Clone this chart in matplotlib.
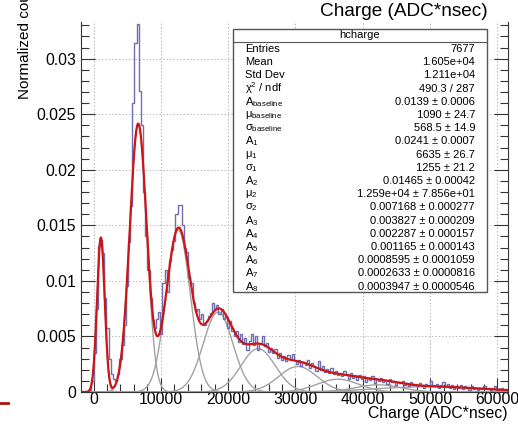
import numpy as np
import matplotlib
matplotlib.use("Agg")
import matplotlib.pyplot as plt
from matplotlib.ticker import MultipleLocator
from matplotlib.lines import Line2D
from matplotlib.patches import Rectangle

plt.rcParams['font.family'] = ['Liberation Sans', 'DejaVu Sans']
plt.rcParams['mathtext.fontset'] = 'custom'
plt.rcParams['mathtext.rm'] = 'Liberation Sans'
plt.rcParams['mathtext.it'] = 'Liberation Sans:italic'
plt.rcParams['mathtext.sf'] = 'Liberation Sans'

# ---------------- data ----------------
bin_start = -1920
bin_width = 320
hist_counts = [
    0, 0, 0, 0.0000, 0.0002, 0.0010, 0.0035, 0.0075, 0.0131, 0.0137,
    0.0125, 0.0085, 0.0058, 0.0030, 0.0016, 0.0012, 0.0010, 0.0016, 0.0030, 0.0042,
    0.0060, 0.0095, 0.0135, 0.0167, 0.0260, 0.0314, 0.0331, 0.0271, 0.0240, 0.0180,
    0.0140, 0.0110, 0.0085, 0.0065, 0.0058, 0.0066, 0.0072, 0.0052, 0.0098, 0.0110,
    0.0090, 0.0118, 0.0128, 0.0136, 0.0160, 0.0168, 0.0168, 0.0150, 0.0130, 0.0126,
    0.0103, 0.0098, 0.0080, 0.0073, 0.0075, 0.0066, 0.0070, 0.0060, 0.0064, 0.0068,
    0.0071, 0.0080, 0.0075, 0.0078, 0.0070, 0.0075, 0.0066, 0.0068, 0.0058, 0.0064,
    0.0055, 0.0050, 0.0055, 0.0045, 0.0052, 0.0043, 0.0049, 0.0038, 0.0046, 0.0052,
    0.0042, 0.0050, 0.0038, 0.0044, 0.0050, 0.0041, 0.0044, 0.0036, 0.0040, 0.0035,
    0.0039, 0.0031, 0.0035, 0.0029, 0.0032, 0.0028, 0.0033, 0.0030, 0.0034, 0.0029,
    0.0025, 0.0029, 0.0023, 0.0027, 0.0024, 0.0029, 0.0022, 0.0026, 0.0023, 0.0019,
    0.0028, 0.0020, 0.0023, 0.0018, 0.0021, 0.0017, 0.0022, 0.0016, 0.0019, 0.0015,
    0.0017, 0.0014, 0.0019, 0.0016, 0.0012, 0.0017, 0.0013, 0.0015, 0.0011, 0.0015,
    0.0012, 0.0014, 0.0009, 0.0013, 0.0011, 0.0014, 0.0008, 0.0012, 0.0010, 0.0013,
    0.0009, 0.0011, 0.0007, 0.0012, 0.0009, 0.0010, 0.0006, 0.0009, 0.0008, 0.0010,
    0.0006, 0.0008, 0.0005, 0.0009, 0.0006, 0.0007, 0.0005, 0.0008, 0.0006, 0.0004,
    0.0007, 0.0005, 0.0010, 0.0006, 0.0005, 0.0007, 0.0004, 0.0006, 0.0009, 0.0005,
    0.0007, 0.0004, 0.0006, 0.0003, 0.0005, 0.0004, 0.0006, 0.0003, 0.0005, 0.0004,
    0.0002, 0.0005, 0.0003, 0.0004, 0.0002, 0.0004, 0.0003, 0.0005, 0.0003, 0.0004,
    0.0002, 0.0003, 0.0005, 0.0002, 0.0003, 0.0004, 0.0002, 0.0003,
]

# fitted gaussian components (peak height, mean, sigma)
comp_height = [0.0139, 0.0241, 0.0146, 0.0072, 0.0039, 0.0023, 0.00115, 0.00065, 0.00048]
comp_mu = [1090, 6635, 12590, 18500, 24450, 30350, 36300, 42300, 50000]
comp_sigma = [568, 1255, 1780, 2200, 2550, 2850, 3100, 3300, 8000]

x_ticks = [0, 10000, 20000, 30000, 40000, 50000, 60000]
y_ticks = [0, 0.005, 0.01, 0.015, 0.02, 0.025, 0.03]
y_ticklabels = ["0", "0.005", "0.01", "0.015", "0.02", "0.025", "0.03"]

stats_title = "hcharge"
stats_labels = ["Entries", "Mean", "Std Dev", r"χ$^{2}$ / ndf",
                r"A$_{\rm baseline}$", r"μ$_{\rm baseline}$", r"σ$_{\rm baseline}$",
                r"A$_{1}$", r"μ$_{1}$", r"σ$_{1}$",
                r"A$_{2}$", r"μ$_{2}$", r"σ$_{2}$",
                r"A$_{3}$", r"A$_{4}$", r"A$_{5}$", r"A$_{6}$", r"A$_{7}$", r"A$_{8}$"]
stats_values = ["7677", "1.605e+04", "1.211e+04", "490.3 / 287",
                "0.0139 ± 0.0006", "1090 ± 24.7", "568.5 ± 14.9",
                "0.0241 ± 0.0007", "6635 ± 26.7", "1255 ± 21.2",
                "0.01465 ± 0.00042", "1.259e+04 ± 7.856e+01", "0.007168 ± 0.000277",
                "0.003827 ± 0.000209", "0.002287 ± 0.000157", "0.001165 ± 0.000143",
                "0.0008595 ± 0.0001059", "0.0002633 ± 0.0000816", "0.0003947 ± 0.0000546"]

# ---------------- figure ----------------
W, H = 518, 425
fig = plt.figure(figsize=(W / 100, H / 100), dpi=100)


def fx(px):
    return px / W


def fy(py):
    return 1 - py / H


XMIN, XMAX = -1860, 61570
YMIN, YMAX = 0, 0.0333

ax = fig.add_axes([fx(81), fy(392), fx(508) - fx(81), fy(22) - fy(392)])
ax.set_xlim(XMIN, XMAX)
ax.set_ylim(YMIN, YMAX)

ax.grid(True, which='major', color='#b8b8b8', ls=(0, (1.5, 2)), lw=0.7)
ax.set_axisbelow(True)

edges = bin_start + bin_width * np.arange(len(hist_counts) + 1)
ax.stairs(hist_counts, edges, color='#6e6eb2', lw=1.0, zorder=3)

xs = np.linspace(XMIN, XMAX, 3000)
total = np.zeros_like(xs)
for h, m, s in zip(comp_height, comp_mu, comp_sigma):
    g = h * np.exp(-0.5 * ((xs - m) / s) ** 2)
    total += g
    ax.plot(xs, g, color='#a2a2a2', lw=1.0, zorder=2)
ax.plot(xs, total, color='#cc1515', lw=1.6, zorder=4)

ax.set_xticks(x_ticks)
ax.set_xticklabels([str(t) for t in x_ticks])
ax.set_yticks(y_ticks)
ax.set_yticklabels(y_ticklabels)
ax.xaxis.set_minor_locator(MultipleLocator(2000))
ax.yaxis.set_minor_locator(MultipleLocator(0.001))
ax.tick_params(which='both', direction='in', top=False, right=True,
               labelsize=11.3, width=0.8, color='#333333')
ax.tick_params(which='major', length=10)
ax.tick_params(which='minor', length=5.5)
ax.tick_params(axis='y', which='major', pad=3.5)
ax.tick_params(axis='x', which='major', pad=0.3)
ax.spines['top'].set_visible(False)
for sp in ['left', 'right', 'bottom']:
    ax.spines[sp].set_linewidth(0.8)
    ax.spines[sp].set_color('#333333')

# titles
fig.text(fx(404), fy(12), "Charge (ADC*nsec)", ha='center', va='center', fontsize=13.7)
fig.text(fx(507), fy(418), "Charge (ADC*nsec)", ha='right', va='baseline', fontsize=11.3)
fig.text(fx(25), fy(99), "Normalized counts", rotation=90, ha='center', va='bottom',
         fontsize=11)

# fragment of a legend line at bottom-left
fig.add_artist(Line2D([0, fx(8)], [fy(403), fy(403)], color='#b01010', lw=2))

# stats box
bx0, by0, bx1, by1 = 233, 29, 487, 292
box = fig.add_axes([fx(bx0), fy(by1), fx(bx1) - fx(bx0), fy(by0) - fy(by1)])
bw, bh = bx1 - bx0, by1 - by0
box.set_xlim(0, bw)
box.set_ylim(bh, 0)
box.axis('off')
box.add_patch(Rectangle((0, 0), bw, bh, facecolor='white', edgecolor='#555555', lw=1.0,
                        clip_on=False))
box.plot([0, bw], [13, 13], color='#555555', lw=0.8)
box.text(bw / 2, 6.5, stats_title, ha='center', va='center', fontsize=8)
for i, (lab, val) in enumerate(zip(stats_labels, stats_values)):
    y = 20 + i * 13.2
    box.text(12, y, lab, ha='left', va='center', fontsize=8)
    box.text(242, y, val, ha='right', va='center', fontsize=8)

fig.savefig("out.png", dpi=100)
